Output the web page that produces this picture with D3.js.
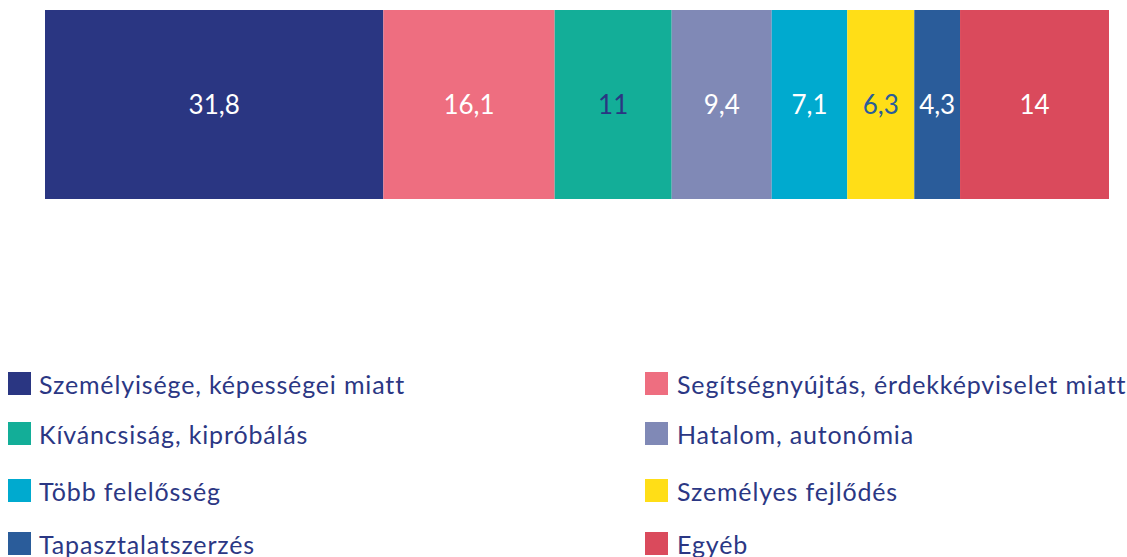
<!DOCTYPE html>
<html>
<head>
<meta charset="utf-8">
<script src="https://cdn.jsdelivr.net/npm/d3@7"></script>
<style>
  html, body { margin: 0; padding: 0; background: #fff; }
  svg { display: block; }
  text { font-family: Lato, "Noto Sans", sans-serif; }
</style>
</head>
<body>
<svg id="chart" width="1127" height="557"></svg>
<script>
// Shares (%) of each reason, in stacking order
const categories = [
  "Személyisége, képességei miatt",
  "Segítségnyújtás, érdekképviselet miatt",
  "Kíváncsiság, kipróbálás",
  "Hatalom, autonómia",
  "Több felelősség",
  "Személyes fejlődés",
  "Tapasztalatszerzés",
  "Egyéb"
];
const values = [31.8, 16.1, 11, 9.4, 7.1, 6.3, 4.3, 14];
const colors = ["#2a3682", "#ee6e80", "#13ae98", "#8089b6", "#00aacf", "#ffde17", "#2a5c9a", "#da4a5c"];
const labelColors = ["#ffffff", "#ffffff", "#2a3682", "#ffffff", "#ffffff", "#2a5c9a", "#ffffff", "#ffffff"];

const svg = d3.select("#chart");
const textColor = "#2b3784";

// Stacked single bar
const x = d3.scaleLinear().domain([0, d3.sum(values)]).range([45, 1109]);
const y = d3.scaleBand().domain(["all"]).range([10, 199]).padding(0);

const stacked = [];
let acc = 0;
values.forEach((v, i) => { stacked.push({ i, v, x0: acc, x1: acc + v }); acc += v; });

const fmt = v => String(v).replace(".", ",");

const seg = svg.append("g").selectAll("g").data(stacked).join("g");
seg.append("rect")
  .attr("x", d => x(d.x0))
  .attr("y", y("all"))
  .attr("width", d => x(d.x1) - x(d.x0))
  .attr("height", y.bandwidth())
  .attr("fill", d => colors[d.i]);
seg.append("text")
  .attr("x", d => (x(d.x0) + x(d.x1)) / 2)
  .attr("y", y("all") + y.bandwidth() / 2)
  .attr("dy", "0.36em")
  .attr("text-anchor", "middle")
  .attr("font-size", 26)
  .attr("fill", d => labelColors[d.i])
  .text(d => fmt(d.v));

// Legend: two columns, four rows
const rowTop = [372, 422, 479, 532];
const colSquareX = [8, 645];
const colTextX = [39, 677];
const sq = 23;

const legend = svg.append("g").selectAll("g").data(categories).join("g")
  .attr("transform", (d, i) => `translate(0,${rowTop[Math.floor(i / 2)]})`);
legend.append("rect")
  .attr("x", (d, i) => colSquareX[i % 2])
  .attr("y", 0)
  .attr("width", sq)
  .attr("height", sq)
  .attr("fill", (d, i) => colors[i]);
legend.append("text")
  .attr("x", (d, i) => colTextX[i % 2])
  .attr("y", sq - 1)
  .attr("font-size", 25)
  .attr("letter-spacing", "0.85px")
  .attr("fill", textColor)
  .text(d => d);
</script>
</body>
</html>
